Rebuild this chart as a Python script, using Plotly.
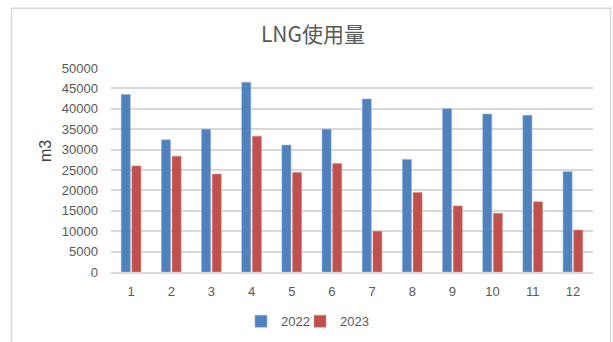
import plotly.graph_objects as go

# Monthly LNG usage (m3), 2022 vs 2023
months = ["1", "2", "3", "4", "5", "6", "7", "8", "9", "10", "11", "12"]
usage_2022 = [43500, 32400, 35000, 46500, 31100, 35000, 42400, 27600, 40000, 38700, 38400, 24600]
usage_2023 = [26000, 28400, 24000, 33300, 24400, 26600, 10000, 19500, 16200, 14400, 17200, 10300]
y_ticks = list(range(0, 50001, 5000))
y_ticktext = [str(v) for v in y_ticks]

W, H = 613, 342
L, R, T, B = 111, 20, 67.5, 69.5
pw, ph = W - L - R, H - T - B


def px_x(px):
    return (px - L) / pw


def px_y(py):
    return (H - B - py) / ph


txt = "#595959"
grid = "#D9D9D9"

fig = go.Figure()
fig.add_trace(go.Bar(x=months, y=usage_2022, name="2022", marker_color="#4F81BD",
                     marker_line=dict(color="#8FB0DA", width=0.6), legend="legend"))
fig.add_trace(go.Bar(x=months, y=usage_2023, name="2023", marker_color="#C0504D",
                     marker_line=dict(color="#DA8E8C", width=0.6), legend="legend2"))

legend_common = dict(orientation="h", xanchor="left", yanchor="middle",
                     font=dict(size=13, color=txt), itemwidth=30,
                     bgcolor="rgba(0,0,0,0)")

fig.update_layout(
    width=W, height=H,
    margin=dict(l=L, r=R, t=T, b=B, pad=0, autoexpand=False),
    paper_bgcolor="white", plot_bgcolor="white",
    barmode="group", bargap=0.47, bargroupgap=0.15,
    font=dict(family="Liberation Sans, Arial, sans-serif", size=13, color=txt),
    title=dict(text="LNG使用量", x=px_x(313), xref="paper", xanchor="center",
               y=1 - 35 / H, yanchor="middle",
               font=dict(family="Noto Sans CJK JP", size=21, color=txt)),
    showlegend=True,
    legend=dict(x=px_x(241), y=px_y(322), **legend_common),
    legend2=dict(x=px_x(300), y=px_y(322), **legend_common),
    xaxis=dict(type="category", showgrid=False, showline=True, linecolor=grid, linewidth=1.5,
               ticks="", tickfont=dict(size=13, color=txt), ticklabelstandoff=7,
               zeroline=False),
    yaxis=dict(range=[0, 50000], tickvals=y_ticks, ticktext=y_ticktext,
               showgrid=True, gridcolor=grid, gridwidth=1.5,
               zeroline=False, showline=False, ticks="", tickfont=dict(size=13, color=txt),
               ticklabelstandoff=12),
    annotations=[dict(text="m3", x=px_x(45), y=px_y(151), xref="paper", yref="paper",
                      textangle=-90, showarrow=False, xanchor="center", yanchor="middle",
                      font=dict(family="Liberation Sans, Arial, sans-serif", size=16, color="#404040"))],
    shapes=[dict(type="rect", xref="paper", yref="paper",
                 x0=px_x(11.5), x1=px_x(610.5), y0=px_y(360), y1=px_y(7.5),
                 line=dict(color="#D9D9D9", width=1.5), fillcolor="rgba(0,0,0,0)", layer="below")],
)

fig.write_html("out.html")
